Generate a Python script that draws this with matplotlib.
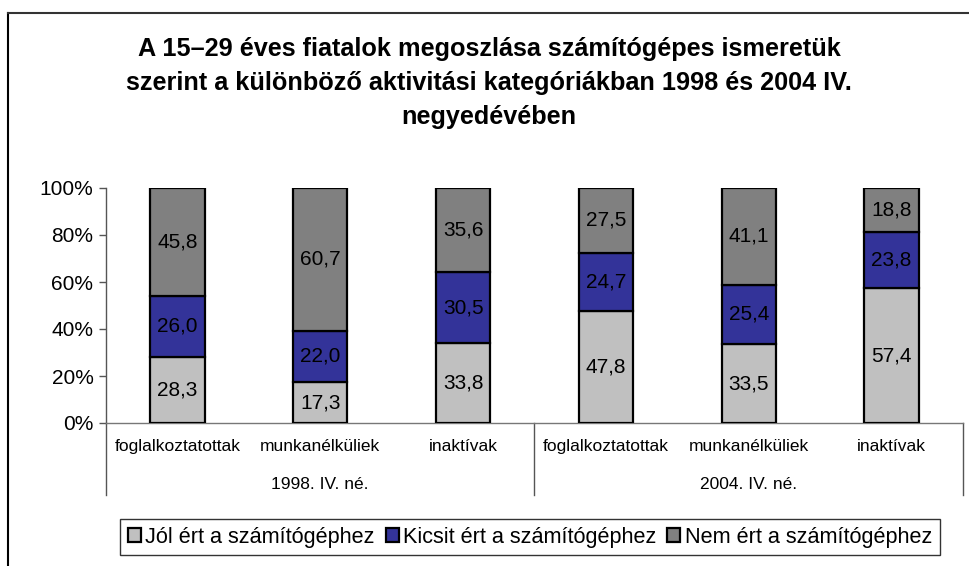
import numpy as np
import matplotlib
matplotlib.use("Agg")
from matplotlib import pyplot as plt
from matplotlib.patches import Patch
from matplotlib.lines import Line2D

## data
categories = ["foglalkoztatottak", "munkanélküliek", "inaktívak",
              "foglalkoztatottak", "munkanélküliek", "inaktívak"]
groups = ["1998. IV. né.", "2004. IV. né."]
jol = [28.3, 17.3, 33.8, 47.8, 33.5, 57.4]
kicsit = [26.0, 22.0, 30.5, 24.7, 25.4, 23.8]
nem = [45.8, 60.7, 35.6, 27.5, 41.1, 18.8]
series_names = ["Jól ért a számítógéphez", "Kicsit ért a számítógéphez",
                "Nem ért a számítógéphez"]
title = ("A 15–29 éves fiatalok megoszlása számítógépes ismeretük\n"
         "szerint a különböző aktivitási kategóriákban 1998 és 2004 IV.\n"
         "negyedévében")

colors = ["#C0C0C0", "#333399", "#808080"]

plt.rcParams["font.family"] = ["Liberation Sans", "DejaVu Sans"]

W, H = 970, 566
fig = plt.figure(figsize=(W / 100, H / 100), dpi=100)

# plot area in pixels: x 106..963, y 188..423
ax = fig.add_axes([106 / W, 1 - 423 / H, (963 - 106) / W, (423 - 188) / H])

series = [np.array(jol), np.array(kicsit), np.array(nem)]
total = series[0] + series[1] + series[2]
x = np.arange(len(categories))
bottom = np.zeros(len(categories))
for vals, col, name in zip(series, colors, series_names):
    frac = vals / total * 100
    ax.bar(x, frac, 0.38, bottom=bottom, color=col, edgecolor="black",
           linewidth=1.6, label=name, zorder=3)
    for xi, b, f, v in zip(x, bottom, frac, vals):
        ax.text(xi, b + f / 2, f"{v:.1f}".replace(".", ","),
                ha="center", va="center", fontsize=15, color="black", zorder=4)
    bottom = bottom + frac

ax.set_xlim(-0.5, 5.5)
ax.set_ylim(0, 100)
ax.set_yticks([0, 20, 40, 60, 80, 100])
ax.set_yticklabels([f"{v}%" for v in [0, 20, 40, 60, 80, 100]], fontsize=15)
ax.tick_params(axis="y", direction="out", length=5, width=1, color="#555555", pad=4)
ax.set_xticks([])
for s in ["top", "right"]:
    ax.spines[s].set_visible(False)
ax.spines["left"].set_color("#555555")
ax.spines["bottom"].set_color("#777777")
ax.spines["left"].set_linewidth(1)
ax.spines["bottom"].set_linewidth(1)

# category + group labels below the axis
tr = ax.get_xaxis_transform()
for xi, c in zip(x, categories):
    ax.text(xi, -0.102, c, transform=tr, ha="center", va="center", fontsize=12.5)
for gi, g in enumerate(groups):
    ax.text(gi * 3 + 1, -0.26, g, transform=tr, ha="center", va="center", fontsize=12.5)
for xs in [-0.5, 2.5, 5.5]:
    ax.plot([xs, xs], [0, -0.306], transform=tr, color="#555555", lw=1, clip_on=False)

fig.text(489 / W, 1 - 83 / H, title, ha="center", va="center", fontsize=18.2,
         fontweight="bold", linespacing=1.55)

handles = [Patch(facecolor=c, edgecolor="black", linewidth=1.6) for c in colors]
leg = fig.legend(handles, series_names, loc="center",
                 bbox_to_anchor=(530 / W, 1 - 537 / H), ncol=3, fontsize=15.6,
                 frameon=True, fancybox=False, handlelength=0.6, handleheight=0.6,
                 handletextpad=0.2, columnspacing=0.5, borderpad=0.35,
                 borderaxespad=0)
leg.get_frame().set_edgecolor("black")
leg.get_frame().set_linewidth(1)

# outer chart border (cut at right and bottom)
fig.add_artist(Line2D([8 / W, 8 / W], [0, 1 - 13 / H], color="black", lw=1.5))
fig.add_artist(Line2D([8 / W, 1], [1 - 13 / H, 1 - 13 / H], color="#333333", lw=1.5))

plt.savefig("out.png", dpi=100)
